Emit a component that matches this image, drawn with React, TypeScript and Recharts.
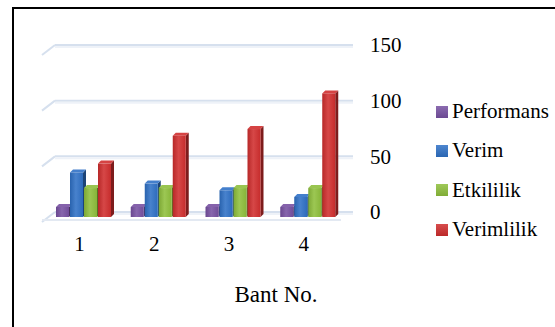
import { BarChart, Bar, XAxis, YAxis, CartesianGrid } from 'recharts';

const bands = ['1', '2', '3', '4'];
const performans = [9, 9, 9, 9];
const verim = [40, 30, 24, 18];
const etkililik = [26, 26, 26, 26];
const verimlilik = [48, 73, 79, 111];
const yTicks = [0, 50, 100, 150];

const series = [
  { key: 'performans', name: 'Performans', color: '#7751a2', values: performans },
  { key: 'verim', name: 'Verim', color: '#2f71c6', values: verim },
  { key: 'etkililik', name: 'Etkililik', color: '#8ebf3c', values: etkililik },
  { key: 'verimlilik', name: 'Verimlilik', color: '#d02e2e', values: verimlilik },
];

const data = bands.map((band, i) => {
  const row: Record<string, any> = { band };
  series.forEach((s) => { row[s.key] = s.values[i]; });
  return row;
});

const W = 555;
const H = 327;
const X_AXIS_H = 30;
const margin = { top: 50, right: 170, bottom: 80, left: 46 };
const floorY = H - margin.bottom - X_AXIS_H;
const DEPTH = 3;
const font = '"Liberation Serif", serif';

function shade(hex: string, amt: number) {
  const n = parseInt(hex.slice(1), 16);
  const f = (c: number) => Math.max(0, Math.min(255, Math.round(amt < 0 ? c * (1 + amt) : c + (255 - c) * amt)));
  const r = f((n >> 16) & 255), g = f((n >> 8) & 255), b = f(n & 255);
  return `rgb(${r},${g},${b})`;
}

// front face + top + right side, giving the column a little depth
function Column3D(props: any) {
  const { x, y, width, height, fill, gradId } = props;
  if (!height || height <= 0) return null;
  const d = DEPTH;
  return (
    <g>
      <polygon
        points={`${x + width},${y} ${x + width + d},${y - d} ${x + width + d},${y + height - d} ${x + width},${y + height}`}
        fill={shade(fill, -0.4)}
      />
      <polygon
        points={`${x},${y} ${x + d},${y - d} ${x + width + d},${y - d} ${x + width},${y}`}
        fill={shade(fill, 0.1)}
      />
      <rect x={x} y={y} width={width} height={height} fill={`url(#${gradId})`} />
    </g>
  );
}

// back-wall grid lines with a short slanted edge on the left
function WallLine(props: any) {
  const { x1, x2, y1 } = props;
  const y = y1;
  const isFloor = Math.abs(y - floorY) < 1;
  return (
    <g>
      <line x1={x1 - 4} y1={y + 5} x2={x1 + 9} y2={y - 5} stroke="#d6e0ee" strokeWidth={2} />
      <line x1={x1 + 9} y1={y - 5} x2={x2 + 8} y2={y - 5} stroke="#d6e0ee" strokeWidth={2} />
      <line x1={x1 + 9} y1={y - 3} x2={x2 + 8} y2={y - 3} stroke="#eef2f8" strokeWidth={2} />
      {isFloor && (
        <line x1={x1 - 4} y1={y + 3} x2={x2 - 4} y2={y + 3} stroke="#e3e9f2" strokeWidth={2} />
      )}
    </g>
  );
}

function LegendBox() {
  return (
    <div style={{ position: 'absolute', left: 436, top: 92, fontFamily: font, fontSize: 21, color: '#000' }}>
      {series.map((s) => (
        <div key={s.key} style={{ display: 'flex', alignItems: 'center', height: 39.3, whiteSpace: 'nowrap' }}>
          <span
            style={{
              width: 12, height: 12, marginRight: 4, display: 'inline-block',
              background: `linear-gradient(180deg, ${shade(s.color, 0.15)}, ${shade(s.color, -0.1)})`,
            }}
          />
          <span>{s.name}</span>
        </div>
      ))}
    </div>
  );
}

export default function App() {
  return (
    <div style={{ position: 'absolute', left: 0, top: 0, width: W, height: H, overflow: 'hidden', background: '#fff' }}>
      <div style={{ position: 'absolute', left: 12, top: 7, width: 600, height: 400, border: '2px solid #000' }} />
      <div style={{ position: 'absolute', left: 0, top: 0 }}>
        <BarChart width={W} height={H} data={data} margin={margin} barSize={13} barGap={1}>
          <defs>
            {series.map((s) => (
              <linearGradient key={s.key} id={`g-${s.key}`} x1="0" y1="0" x2="1" y2="0">
                <stop offset="0%" stopColor={shade(s.color, -0.12)} />
                <stop offset="45%" stopColor={shade(s.color, 0.12)} />
                <stop offset="100%" stopColor={shade(s.color, -0.05)} />
              </linearGradient>
            ))}
          </defs>
          <CartesianGrid vertical={false} horizontal={(p: any) => <WallLine key={p.key ?? p.y1} {...p} />} />
          <XAxis
            dataKey="band"
            height={X_AXIS_H}
            axisLine={false}
            tickLine={false}
            tickSize={0}
            tickMargin={19}
            tick={{ fill: '#000', fontSize: 21, fontFamily: font, dx: -4 }}
          />
          <YAxis
            orientation="right"
            domain={[0, 150]}
            ticks={yTicks}
            width={40}
            axisLine={false}
            tickLine={false}
            tickSize={0}
            tickMargin={25}
            tick={{ fill: '#000', fontSize: 21, fontFamily: font, dy: -5, textAnchor: 'start' }}
          />
          {series.map((s) => (
            <Bar
              key={s.key}
              dataKey={s.key}
              name={s.name}
              fill={s.color}
              isAnimationActive={false}
              shape={(p: any) => <Column3D {...p} gradId={`g-${s.key}`} />}
            />
          ))}
        </BarChart>
      </div>
      <LegendBox />
      <div
        style={{
          position: 'absolute', left: 176, top: 283, width: 200, textAlign: 'center',
          fontFamily: font, fontSize: 23, lineHeight: '23px', color: '#000',
        }}
      >
        Bant No.
      </div>
    </div>
  );
}
